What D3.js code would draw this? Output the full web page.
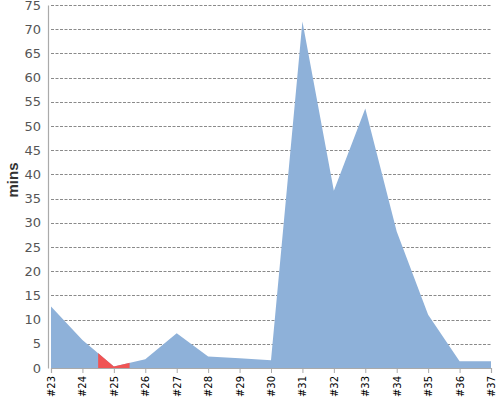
<!DOCTYPE html>
<html>
<head>
<meta charset="utf-8">
<script src="https://cdn.jsdelivr.net/npm/d3@7"></script>
<style>
  body { margin: 0; background: #fff; }
</style>
</head>
<body>
<div id="chart"></div>
<script>
// chart data
var builds = ["#23", "#24", "#25", "#26", "#27", "#28", "#29", "#30", "#31", "#32", "#33", "#34", "#35", "#36", "#37"];
var minutes = [12.7, 5.8, 0.3, 1.8, 7.2, 2.4, 2.0, 1.6, 71.6, 36.6, 53.6, 28.2, 11.0, 1.4, 1.4];
var yTicks = [0, 5, 10, 15, 20, 25, 30, 35, 40, 45, 50, 55, 60, 65, 70, 75];
var lowLimit = 1; // points below this get drawn red

var fontName = "DejaVu Sans";

var svgWidth = 500;
var svgHeight = 400;
var margin = { top: 5, right: 9, bottom: 32, left: 51 };
var width = svgWidth - margin.left - margin.right;
var height = svgHeight - margin.top - margin.bottom;

var svg = d3.select("#chart")
  .append("svg")
  .attr("width", svgWidth)
  .attr("height", svgHeight)
  .attr("font-family", fontName);

var chartGroup = svg.append("g")
  .attr("transform", `translate(${margin.left}, ${margin.top})`);

var x = d3.scalePoint()
  .domain(builds)
  .range([0, width]);

var y = d3.scaleLinear()
  .domain([0, 75])
  .range([height, 0]);

// grid lines
chartGroup.append("g")
  .selectAll("line")
  .data(yTicks.slice(1))
  .enter()
  .append("line")
  .attr("x1", 0)
  .attr("x2", width)
  .attr("y1", d => Math.round(y(d)) + 0.5)
  .attr("y2", d => Math.round(y(d)) + 0.5)
  .attr("stroke", "#8a8a8a")
  .attr("stroke-dasharray", "3,1.5");

var data = builds.map((b, i) => ({ build: b, value: minutes[i] }));

var area = d3.area()
  .x(d => x(d.build))
  .y0(height)
  .y1(d => y(d.value));

chartGroup.append("path")
  .datum(data)
  .attr("fill", "#8eb1d9")
  .attr("d", area);

// red overlay for low points, half a step either side
var step = x.step();
var defs = svg.append("defs");
data.forEach(function(d, i) {
  if (d.value >= lowLimit) return;
  var x0 = Math.max(0, x(d.build) - step / 2);
  var x1 = Math.min(width, x(d.build) + step / 2);
  defs.append("clipPath")
    .attr("id", "low" + i)
    .append("rect")
    .attr("x", x0)
    .attr("y", 0)
    .attr("width", x1 - x0)
    .attr("height", height);
  chartGroup.append("path")
    .datum(data)
    .attr("fill", "#f05454")
    .attr("clip-path", `url(#low${i})`)
    .attr("d", area);
});

// x axis
var xAxis = chartGroup.append("g")
  .attr("transform", `translate(0, ${height})`)
  .call(d3.axisBottom(x).tickSize(5).tickPadding(4))
  .attr("font-family", fontName);
xAxis.select(".domain").attr("stroke", "#aaa").attr("stroke-width", 1.2);
xAxis.selectAll(".tick line").attr("stroke", "#aaa");
xAxis.selectAll("text")
  .attr("transform", "rotate(-90)")
  .attr("x", -8)
  .attr("y", 0)
  .attr("dy", "0.35em")
  .attr("text-anchor", "end")
  .attr("font-size", 10)
  .attr("fill", "#000");

// y axis
var yAxis = chartGroup.append("g")
  .attr("transform", "translate(-3, 0)")
  .call(d3.axisLeft(y).tickValues(yTicks).tickSize(0).tickPadding(7))
  .attr("font-family", fontName);
yAxis.select(".domain").attr("stroke", "#aaa").attr("stroke-width", 1.2);
yAxis.selectAll("text")
  .attr("font-size", 13)
  .attr("fill", "#555");

svg.append("text")
  .attr("transform", "rotate(-90)")
  .attr("x", -180)
  .attr("y", 18)
  .attr("text-anchor", "middle")
  .attr("font-family", "Liberation Sans")
  .attr("font-size", 15)
  .attr("font-weight", "bold")
  .attr("fill", "#333")
  .text("mins");
</script>
</body>
</html>
